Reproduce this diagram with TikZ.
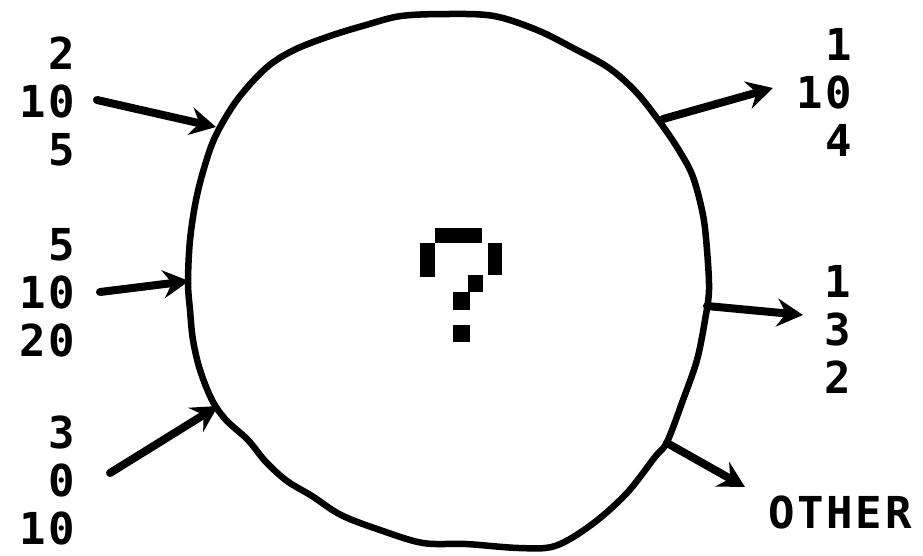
\documentclass[tikz,border=0pt]{standalone}
\usepackage{fontspec}
\usepackage{tikz}
\usetikzlibrary{arrows.meta}
\newfontfamily\termfont{DejaVu Sans Mono}[LetterSpace=6]

\tikzset{
  tally/.style={font=\termfont\bfseries\fontsize{44}{48}\selectfont,inner sep=0pt},
  flow/.style={line width=8pt,line cap=round,-{Stealth[length=26pt,width=28pt,inset=9pt]}},
  blob/.style={line width=6.5pt,line join=round},
  pixel/.style={fill=black}
}

\begin{document}
\begin{tikzpicture}[x=1pt,y=-1pt]
\useasboundingbox (0,0) rectangle (923,555);
% the unknown process
\draw[blob] plot[smooth cycle,tension=0.55] coordinates {
 (448,14) (494,16) (537,30) (573,48) (609,68) (637,93) (662,125) (680,152)
 (693,177) (703,215) (707,250) (709,290) (705,320) (697,360) (683,400) (667,442)
 (655,457) (626,494) (591,525) (555,546) (519,548) (466,544) (423,543) (380,530)
 (341,515) (312,496) (287,481) (266,462) (248,440) (226,420) (212,400) (200,370)
 (193,340) (190,310) (188,282) (190,240) (196,200) (205,165) (216,135) (237,100)
 (266,68) (294,50) (330,36) (366,25) (401,16)};
% question mark
\fill[pixel] (435,228) rectangle (482,243);
\fill[pixel] (420,243) rectangle (435,277);
\fill[pixel] (488,243) rectangle (502,275);
\fill[pixel] (468,275) rectangle (483,292);
\fill[pixel] (453,292) rectangle (470,310);
\fill[pixel] (453,325) rectangle (470,342);
% inputs
\node[tally,align=right,anchor=east] (inA) at (75,101) {2\\10\\5};
\node[tally,align=right,anchor=east] (inB) at (75,293) {5\\10\\20};
\node[tally,align=right,anchor=east] (inC) at (75,480) {3\\0\\10};
% outputs
\node[tally,align=right,anchor=east] (outA) at (852,92) {1\\10\\4};
\node[tally,align=center] (outB) at (838,329) {1\\3\\2};
\node[tally] (outC) at (840,512) {OTHER};
% ends of the arrows
\coordinate (tA) at (97,100);  \coordinate (hA) at (216,127);
\coordinate (tB) at (100,292); \coordinate (hB) at (189,281);
\coordinate (tC) at (110,473); \coordinate (hC) at (218,406);
\coordinate (sA) at (663,119); \coordinate (eA) at (773,88);
\coordinate (sB) at (707,306); \coordinate (eB) at (803,315);
\coordinate (sC) at (667,443); \coordinate (eC) at (745,487);
\draw[flow] (tA) -- (hA);
\draw[flow] (tB) -- (hB);
\draw[flow] (tC) -- (hC);
\draw[flow] (sA) -- (eA);
\draw[flow] (sB) -- (eB);
\draw[flow] (sC) -- (eC);
\end{tikzpicture}
\end{document}
